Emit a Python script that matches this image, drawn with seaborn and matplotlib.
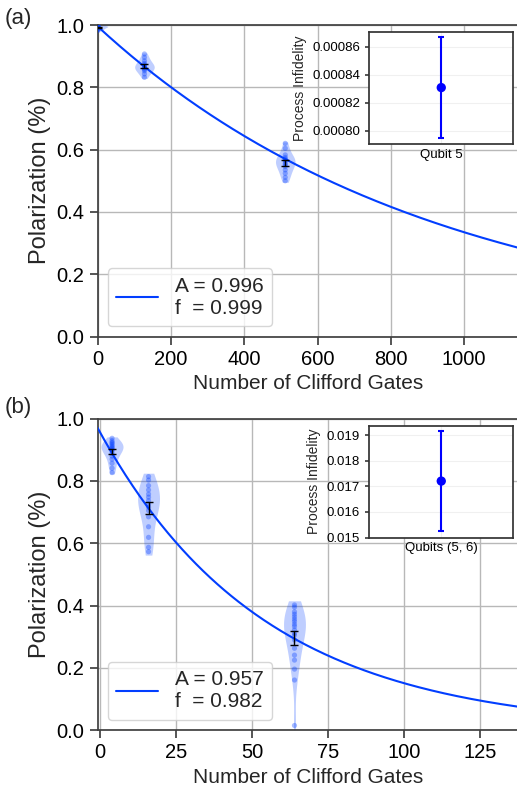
import numpy as np
import pandas as pd
import matplotlib
matplotlib.use('Agg')
import matplotlib.pyplot as plt
from matplotlib.ticker import FormatStrFormatter
import seaborn as sns

sns.set_theme(style='ticks', rc={'axes.grid': True, 'grid.color': '#b8b8b8',
                                 'grid.linewidth': 1.0, 'axes.axisbelow': True,
                                 'axes.edgecolor': '.25', 'xtick.color': '.25',
                                 'ytick.color': '.25', 'xtick.labelcolor': 'black',
                                 'ytick.labelcolor': 'black'})
plt.rcParams['font.family'] = ['Liberation Sans', 'DejaVu Sans']

blue = '#023eff'

# (a) single qubit RB: polarization samples per sequence length
lengths_a = [1, 128, 512]
pol_a_1 = [0.999, 0.998, 0.997, 0.996, 0.995, 0.994, 0.993, 0.991, 0.989, 0.987,
           0.985, 0.982]
pol_a_128 = [0.907, 0.896, 0.885, 0.877, 0.872, 0.868, 0.865, 0.861, 0.857,
             0.853, 0.843, 0.832]
pol_a_512 = [0.620, 0.604, 0.583, 0.575, 0.570, 0.567, 0.563, 0.556, 0.552,
             0.546, 0.535, 0.524, 0.511, 0.500]
fit_a = {'A': 0.996, 'f': 0.99891}
infid_a = 0.000831
infid_a_err = 0.000036

# (b) two qubit RB
lengths_b = [4, 16, 64]
pol_b_4 = [0.937, 0.929, 0.924, 0.921, 0.916, 0.912, 0.908, 0.905, 0.901, 0.897,
           0.889, 0.880, 0.870, 0.857, 0.841, 0.827]
pol_b_16 = [0.814, 0.803, 0.785, 0.771, 0.758, 0.748, 0.737, 0.726, 0.716,
            0.705, 0.685, 0.653, 0.619, 0.587, 0.573]
pol_b_64 = [0.402, 0.395, 0.380, 0.372, 0.364, 0.356, 0.349, 0.340, 0.333,
            0.322, 0.311, 0.305, 0.290, 0.263, 0.241, 0.225, 0.196, 0.161, 0.015]
fit_b = {'A': 0.957, 'f': 0.9817}
infid_b = 0.01721
infid_b_err = 0.00197


def tidy(lengths, samples):
    rows = []
    for m, vals in zip(lengths, samples):
        rows += [(m, v) for v in vals]
    return pd.DataFrame(rows, columns=['m', 'pol'])


df_a = tidy(lengths_a, [pol_a_1, pol_a_128, pol_a_512])
df_b = tidy(lengths_b, [pol_b_4, pol_b_16, pol_b_64])

fig = plt.figure(figsize=(5.17, 7.87), dpi=100)


def rb_panel(rect, df, fit, xlim, xticks, width):
    ax = fig.add_axes(rect)
    sns.violinplot(data=df, x='m', y='pol', native_scale=True, color=blue,
                   saturation=1, alpha=0.25, linewidth=0, width=width,
                   density_norm='width', cut=0.25, inner='point',
                   inner_kws=dict(color=blue, edgecolor='none', s=14, alpha=0.35),
                   ax=ax)
    gb = df.groupby('m')['pol']
    ax.errorbar(gb.mean().index, gb.mean().values, yerr=gb.sem().values,
                fmt='none', ecolor='black', elinewidth=1, capsize=2.7, zorder=5)
    mm = np.linspace(xlim[0], xlim[1], 300)
    lab = f"A = {fit['A']:.3f}\nf  = {fit['f']:.3f}"
    ax.plot(mm, fit['A'] * fit['f'] ** mm, color=blue, lw=1.5, label=lab, zorder=4)
    ax.set_xlim(*xlim)
    ax.set_ylim(0, 1.0)
    ax.set_xticks(xticks)
    ax.set_yticks(np.arange(0, 1.01, 0.2))
    ax.yaxis.set_major_formatter(FormatStrFormatter('%.1f'))
    ax.tick_params(labelsize=14.5)
    ax.set_xlabel('Number of Clifford Gates', fontsize=15)
    ax.set_ylabel('Polarization (%)', fontsize=17)
    ax.spines['right'].set_visible(False)
    ax.legend(loc='lower left', fontsize=15, frameon=True, handlelength=2.0)
    return ax


def inset(rect, val, err, label, ylim, yticks, fmt):
    ax = fig.add_axes(rect)
    sns.scatterplot(x=[0], y=[val], color='blue', s=45, edgecolor='none',
                    zorder=4, ax=ax)
    ax.errorbar([0], [val], yerr=[err], fmt='none', ecolor='blue',
                elinewidth=1.5, capsize=2.5, capthick=1.5)
    ax.set_xlim(-0.5, 0.5)
    ax.set_xticks([0])
    ax.set_xticklabels([label])
    ax.set_ylim(*ylim)
    ax.set_yticks(yticks)
    ax.yaxis.set_major_formatter(FormatStrFormatter(fmt))
    ax.grid(True, color='0.94', lw=0.8)
    ax.tick_params(labelsize=9.5, length=3)
    ax.tick_params(axis='x', length=0)
    ax.set_ylabel('Process Infidelity', fontsize=10)
    for s in ax.spines.values():
        s.set_color('.2')
    return ax


rb_panel([0.1886, 0.5724, 0.815, 0.3958], df_a, fit_a, (0, 1149),
         [0, 200, 400, 600, 800, 1000], 0.42)
rb_panel([0.1886, 0.0722, 0.815, 0.3958], df_b, fit_b, (-0.79, 137.8),
         [0, 25, 50, 75, 100, 125], 0.6)

inset([0.714, 0.817, 0.279, 0.142], infid_a, infid_a_err, 'Qubit 5',
      (0.0007907, 0.0008705), [0.00080, 0.00082, 0.00084, 0.00086], '%.5f')
inset([0.714, 0.317, 0.279, 0.142], infid_b, infid_b_err, 'Qubits (5, 6)',
      (0.015, 0.019376), [0.015, 0.016, 0.017, 0.018, 0.019], '%.3f')

fig.text(0.008, 0.977, '(a)', fontsize=16, va='center')
fig.text(0.008, 0.4816, '(b)', fontsize=16, va='center')

fig.savefig('out.png', dpi=100)
